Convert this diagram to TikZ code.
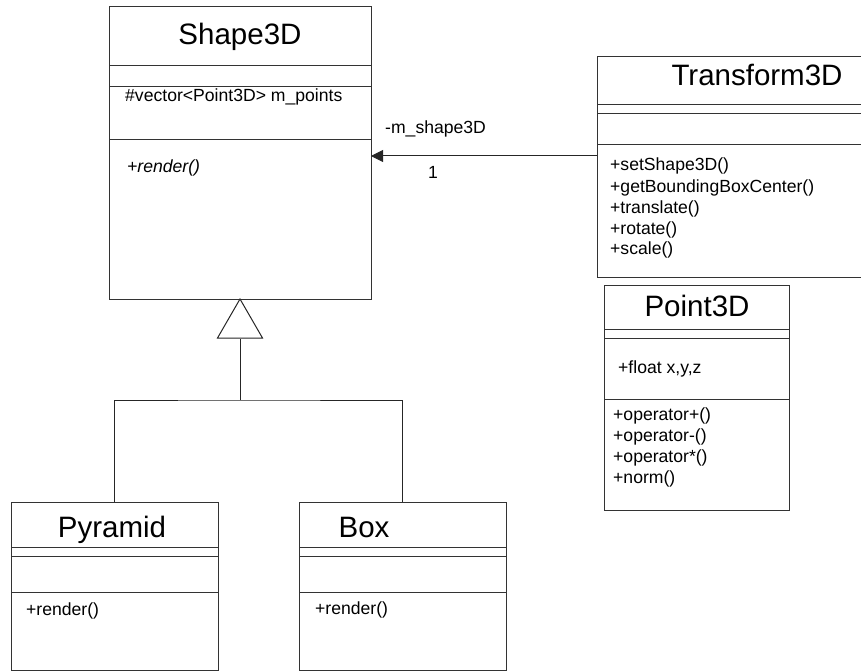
\documentclass[tikz,border=0pt]{standalone}
\usepackage{fontspec}
\setmainfont{Liberation Sans}
\usetikzlibrary{arrows.meta}
\begin{document}
\begin{tikzpicture}[x=1pt,y=-1pt,
  classbox/.style={draw=black!80,line width=1pt,inner sep=0pt,outer sep=0pt,rectangle},
  sepline/.style={draw=black!80,line width=1pt},
  title/.style={anchor=base,inner sep=0pt,font=\fontsize{29.5}{35}\selectfont},
  member/.style={anchor=mid west,inner sep=0pt,font=\fontsize{17.6}{21}\selectfont},
  link/.style={draw=black!85,line width=1pt}]
\useasboundingbox (0,0) rectangle (861,671);

% class frames
\node[classbox,minimum width=262pt,minimum height=292pt] (shape) at (240,153) {};
\node[classbox,minimum width=273pt,minimum height=220pt] (trans) at (733.5,167) {};
\node[classbox,minimum width=185pt,minimum height=225pt] (point) at (696.5,397.5) {};
\node[classbox,minimum width=207pt,minimum height=168pt] (pyr) at (114.5,586) {};
\node[classbox,minimum width=207pt,minimum height=168pt] (box) at (402.5,586) {};

% compartment separators
\foreach \y in {66,87,140} \draw[sepline] (shape.west |- 0,\y) -- (shape.east |- 0,\y);
\foreach \y in {105,114,145} \draw[sepline] (trans.west |- 0,\y) -- (trans.east |- 0,\y);
\foreach \y in {329,338,399} \draw[sepline] (point.west |- 0,\y) -- (point.east |- 0,\y);
\foreach \y in {547,556,592} {
  \draw[sepline] (pyr.west |- 0,\y) -- (pyr.east |- 0,\y);
  \draw[sepline] (box.west |- 0,\y) -- (box.east |- 0,\y);
}

% Shape3D
\node[title] (shapeT) at (240,45) {Shape3D};
\node[member] (shapeA) at (125,99) {\#vector<Point3D> m\_points};
\node[member] (shapeM) at (127,170) {\itshape +render()};

% Transform3D
\node[title] (transT) at (757,86) {Transform3D};
\node[member] (transM1) at (610,168) {+setShape3D()};
\node[member] (transM2) at (610,189.5) {+getBoundingBoxCenter()};
\node[member] (transM3) at (610,210.5) {+translate()};
\node[member] (transM4) at (610,231.5) {+rotate()};
\node[member] (transM5) at (610,252) {+scale()};

% Point3D
\node[title] (pointT) at (697,316) {Point3D};
\node[member] (pointA) at (618,371) {+float x,y,z};
\node[member] (pointM1) at (613,418) {+operator+()};
\node[member] (pointM2) at (613,439) {+operator-()};
\node[member] (pointM3) at (613,460) {+operator*()};
\node[member] (pointM4) at (613,481) {+norm()};

% Pyramid and Box
\node[title] (pyrT) at (112,537) {Pyramid};
\node[member] (pyrM) at (26,613) {+render()};
\node[title] (boxT) at (364,537) {Box};
\node[member] (boxM) at (315,612) {+render()};

% association Transform3D -> Shape3D
\draw[link,-{Triangle[length=12pt,width=12pt]}] (trans.west |- 0,156) -- (shape.east |- 0,156);
\node[member] (roleL) at (385,131) {-m\_shape3D};
\node[anchor=center,inner sep=0pt,font=\fontsize{17.6}{21}\selectfont] (multL) at (433,172) {1};

% generalisation
\coordinate (apex) at (shape.south);
\coordinate (baseC) at (240,339);
\draw[link,fill=white] (apex) -- ++(22.5,39) -- ++(-45,0) -- cycle;
\coordinate (junc) at (240,400);
\draw[link] (baseC) -- (junc);
\draw[link] (pyr.north) |- (junc) -| (box.north);
\end{tikzpicture}
\end{document}
